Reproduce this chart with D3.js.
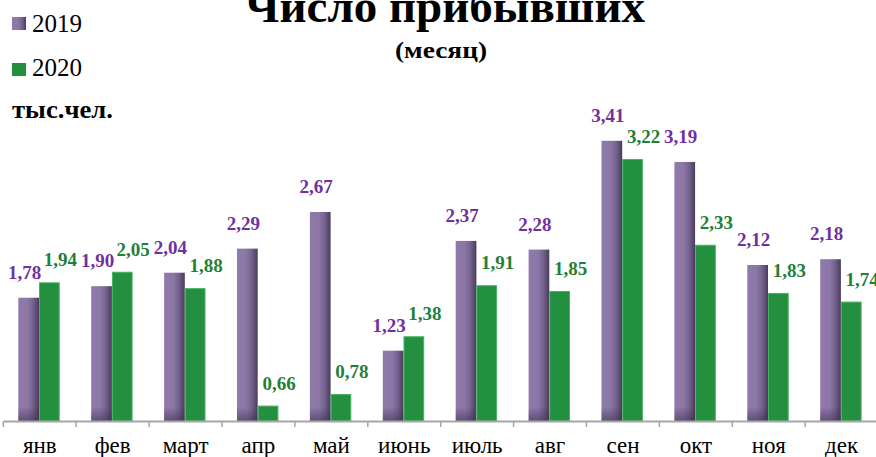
<!DOCTYPE html>
<html><head><meta charset="utf-8">
<script src="https://cdn.jsdelivr.net/npm/d3@7"></script>
<style>
html,body{margin:0;padding:0;background:#fff;overflow:hidden}
svg{display:block}
</style></head>
<body>
<svg id="c" width="876" height="457"></svg>
<script>
const months = ["янв","фев","март","апр","май","июнь","июль","авг","сен","окт","ноя","дек"];
const series = ["2019","2020"];
const values2019 = [1.78,1.90,2.04,2.29,2.67,1.23,2.37,2.28,3.41,3.19,2.12,2.18];
const values2020 = [1.94,2.05,1.88,0.66,0.78,1.38,1.91,1.85,3.22,2.33,1.83,1.74];
const title = "Число прибывших";
const subtitle = "(месяц)";
const unitLabel = "тыс.чел.";
const FONT = '"Liberation Serif"';

const svg = d3.select("#c");
const defs = svg.append("defs");
const gp = defs.append("linearGradient").attr("id","gpH").attr("x1","0").attr("x2","1").attr("y1","0").attr("y2","0");
[[0,"#8f7bab"],[0.45,"#8b76a6"],[0.7,"#76638f"],[1,"#4a3c5c"]].forEach(s=>gp.append("stop").attr("offset",s[0]).attr("stop-color",s[1]));
const gb = defs.append("linearGradient").attr("id","gpV").attr("x1","0").attr("x2","0").attr("y1","0").attr("y2","1");
gb.append("stop").attr("offset",0).attr("stop-color","#3a2d4a").attr("stop-opacity",0);
gb.append("stop").attr("offset",1).attr("stop-color","#3a2d4a").attr("stop-opacity",0.55);

const x0 = d3.scaleBand().domain(months).range([3.3, 878.1]).padding(0);
const x1 = d3.scaleBand().domain(series).range([15, 56.4]).padding(0);
const y = d3.scaleLinear().domain([0.5, 3.5]).range([421, 132.1]);

const data = months.map((m,i)=>({m, v:[values2019[i], values2020[i]]}));

const g = svg.append("g");
const grp = g.selectAll("g.m").data(data).join("g").attr("transform",d=>`translate(${x0(d.m)},0)`);

// 2019 bars
grp.append("rect").attr("x",x1("2019")).attr("width",x1.bandwidth())
  .attr("y",d=>y(d.v[0])).attr("height",d=>y(0.5)-y(d.v[0])).attr("fill","url(#gpH)");
grp.append("rect").attr("x",x1("2019")).attr("width",x1.bandwidth())
  .attr("y",d=>Math.max(y(d.v[0]), y(0.5)-14)).attr("height",d=>Math.min(14, y(0.5)-y(d.v[0]))).attr("fill","url(#gpV)");
// 2020 bars
grp.append("rect").attr("x",x1("2020")+0.5).attr("width",x1.bandwidth()-1)
  .attr("y",d=>y(d.v[1])+0.5).attr("height",d=>y(0.5)-y(d.v[1])-0.5)
  .attr("fill","#22903e").attr("stroke","#49b066").attr("stroke-width",1);

// axis
const axis = d3.axisBottom(x0).tickSize(0).tickPadding(0);
const ax = svg.append("g").attr("transform",`translate(0,${y(0.5)})`).call(axis);
ax.attr("font-family",null);
ax.select(".domain").attr("stroke","#a6a6a6").attr("stroke-width",2);
ax.selectAll("text").style("font-family",FONT).attr("font-size",23).attr("fill","#000").attr("y",32).attr("dy",null);
// category separators ticks
const bounds = months.map(m=>x0(m)).concat([x0(months[11])+x0.bandwidth()]);
svg.append("g").selectAll("line").data(bounds).join("line")
  .attr("x1",d=>d).attr("x2",d=>d).attr("y1",y(0.5)).attr("y2",y(0.5)+6)
  .attr("stroke","#a6a6a6").attr("stroke-width",1.5);

// value labels
const fmt = v => d3.format(".2f")(v).replace(".",",");
grp.append("text").attr("x",x1("2019")+x1.bandwidth()/2-4).attr("y",d=>y(d.v[0])-19)
  .style("font-family",FONT)
  .attr("text-anchor","middle").attr("font-size",19).attr("font-weight","bold").attr("fill","#7030a0")
  .text(d=>fmt(d.v[0]));
grp.append("text").attr("x",x1("2020")+x1.bandwidth()/2+11).attr("y",d=>y(d.v[1])-16)
  .style("font-family",FONT)
  .attr("text-anchor","middle").attr("font-size",19).attr("font-weight","bold").attr("fill","#1f8038")
  .text(d=>fmt(d.v[1]));

// title
svg.append("text").attr("x",445).attr("y",22).attr("text-anchor","middle").style("font-family",FONT)
  .attr("font-size",46).attr("font-weight","bold").attr("fill","#000")
  .attr("textLength",400).attr("lengthAdjust","spacingAndGlyphs").text(title);
svg.append("text").attr("x",441).attr("y",58).attr("text-anchor","middle").style("font-family",FONT)
  .attr("font-size",24).attr("font-weight","bold").attr("fill","#000")
  .attr("textLength",92).attr("lengthAdjust","spacingAndGlyphs").text(subtitle);

// legend
const legColors = ["url(#gpH)","#22903e"];
const lg = svg.append("g");
series.forEach((s,i)=>{
  lg.append("rect").attr("x",12).attr("y",17+i*46).attr("width",14).attr("height",13).attr("fill",legColors[i]);
  lg.append("text").attr("x",32).attr("y",32+i*44).style("font-family",FONT).attr("font-size",25).attr("fill","#000").text(s);
});
svg.append("text").attr("x",12).attr("y",118).style("font-family",FONT).attr("font-size",25).attr("font-weight","bold").attr("fill","#000")
  .attr("textLength",101).attr("lengthAdjust","spacingAndGlyphs").text(unitLabel);
</script>
</body></html>
